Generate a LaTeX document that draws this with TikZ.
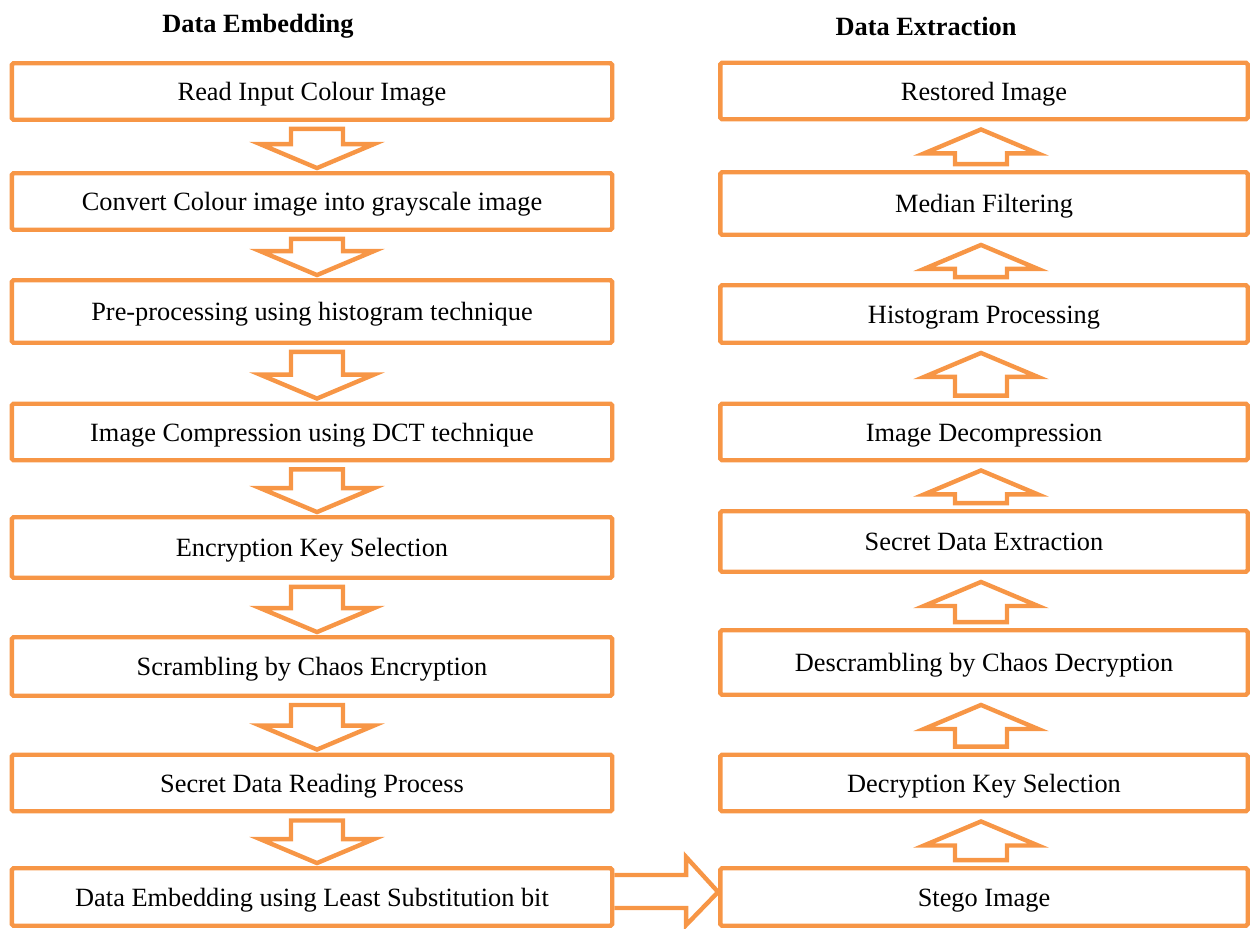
\documentclass[tikz,border=0pt]{standalone}
\usepackage{fontspec}
\setmainfont{Liberation Serif}
\usetikzlibrary{calc}
\definecolor{boxorange}{HTML}{F79646}

% hollow block arrows between two stages
\newcommand{\fatdown}[2]{%
  \draw[fatarrow] ($(#1.south)+(-21,7)$) -- ($(#2.north)+(-21,-27)$) -- ($(#2.north)+(-52,-27)$)
    -- ($(#2.north)+(5,-3)$) -- ($(#2.north)+(62,-27)$) -- ($(#2.north)+(31,-27)$)
    -- ($(#1.south)+(31,7)$) -- cycle;}
\newcommand{\fatup}[2]{%
  \draw[fatarrow] ($(#1.north)+(-29,-6)$) -- ($(#2.south)+(-29,32)$) -- ($(#2.south)+(-60,32)$)
    -- ($(#2.south)+(-3,8)$) -- ($(#2.south)+(54,32)$) -- ($(#2.south)+(23,32)$)
    -- ($(#1.north)+(23,-6)$) -- cycle;}

\tikzset{
  stage/.style={rectangle, draw=boxorange, line width=2.5pt, minimum width=12.01cm,
    minimum height=1.13cm, inner sep=0pt, rounded corners=1pt,
    text height=13.6pt, text depth=3.3pt},
  extstage/.style={stage, minimum width=10.55cm},
  fatarrow/.style={draw=boxorange, line width=2.5pt, line join=miter},
  heading/.style={font=\fontsize{15}{18}\selectfont\bfseries}
}

\begin{document}
\begin{tikzpicture}[x=0.02cm, y=-0.02cm, every node/.style={font=\fontsize{15}{18}\selectfont}]
\useasboundingbox (0,0) rectangle (1250,929);

% Headings
\node[heading] (hemb) at (258,26) {Data Embedding};
\node[heading] (hext) at (926,26) {Data Extraction};

% Embedding side
\node[stage] (emb1) at (312,91.5) {Read Input Colour Image};
\node[stage] (emb2) at (312,201.5) {Convert Colour image into grayscale image};
\node[stage, minimum height=1.25cm] (emb3) at (312,311.5) {Pre-processing using histogram technique};
\node[stage] (emb4) at (312,432) {Image Compression using DCT technique};
\node[stage, minimum height=1.21cm] (emb5) at (312,547.5) {Encryption Key Selection};
\node[stage, minimum height=1.17cm] (emb6) at (312,666.5) {Scrambling by Chaos Encryption};
\node[stage] (emb7) at (312,783) {Secret Data Reading Process};
\node[stage, minimum height=1.15cm] (emb8) at (312,897) {Data Embedding using Least Substitution bit};

\fatdown{emb1}{emb2}
\fatdown{emb2}{emb3}
\fatdown{emb3}{emb4}
\fatdown{emb4}{emb5}
\fatdown{emb5}{emb6}
\fatdown{emb6}{emb7}
\fatdown{emb7}{emb8}

% Extraction side
\node[extstage] (ext1) at (984,91) {Restored Image};
\node[extstage, minimum height=1.25cm] (ext2) at (984,203.5) {Median Filtering};
\node[extstage, minimum height=1.15cm] (ext3) at (984,314) {Histogram Processing};
\node[extstage] (ext4) at (984,432) {Image Decompression};
\node[extstage, minimum height=1.21cm] (ext5) at (984,541.5) {Secret Data Extraction};
\node[extstage, minimum height=1.29cm] (ext6) at (984,662.5) {Descrambling by Chaos Decryption};
\node[extstage] (ext7) at (984,783) {Decryption Key Selection};
\node[extstage, minimum height=1.15cm] (ext8) at (984,897) {Stego Image};

\fatup{ext2}{ext1}
\fatup{ext3}{ext2}
\fatup{ext4}{ext3}
\fatup{ext5}{ext4}
\fatup{ext6}{ext5}
\fatup{ext7}{ext6}
\fatup{ext8}{ext7}

% Hand-over arrow
\draw[fatarrow] ($(emb8.east)+(0,-22)$) -- ($(ext8.west)+(-32,-22)$) -- ($(ext8.west)+(-32,-40)$)
  -- ($(ext8.west)+(0,-5)$) -- ($(ext8.west)+(-32,28)$) -- ($(ext8.west)+(-32,11)$)
  -- ($(emb8.east)+(0,11)$);

\end{tikzpicture}
\end{document}
